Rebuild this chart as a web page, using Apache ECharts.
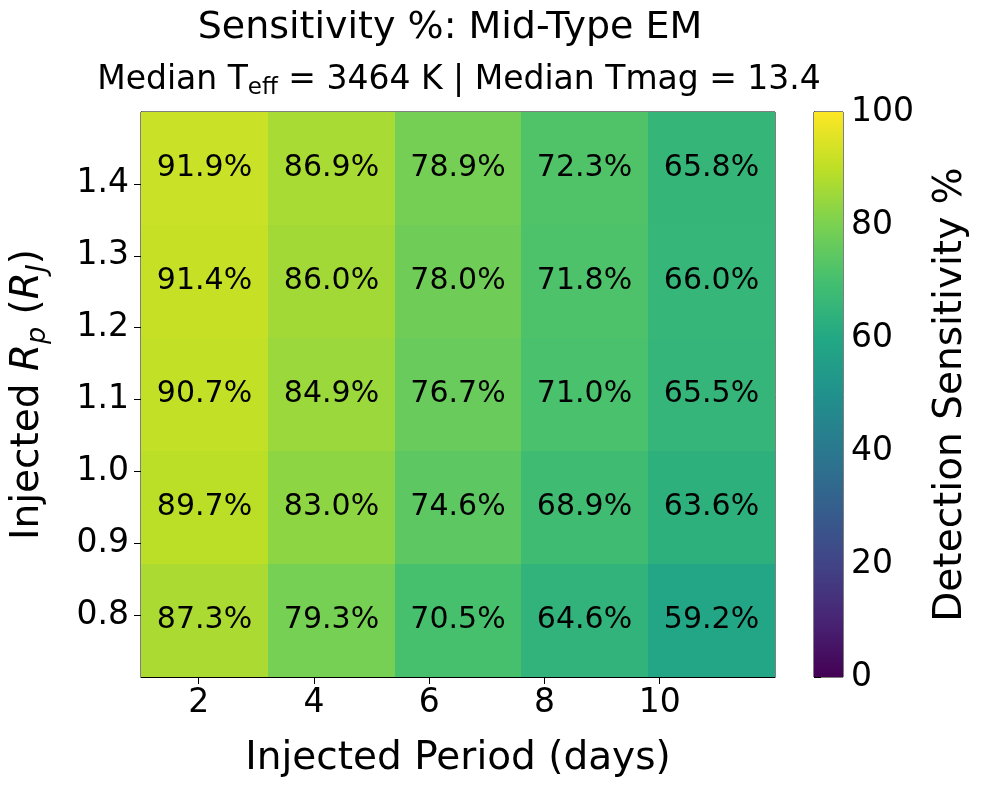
<!DOCTYPE html>
<html>
<head>
<meta charset="utf-8">
<script src="https://cdn.jsdelivr.net/npm/echarts@6/dist/echarts.min.js"></script>
<style>html,body{margin:0;padding:0;background:#fff;}#c{width:984px;height:789px;}</style>
</head>
<body>
<div id="c"></div>
<script>
// Cell edges (period in days, radius in R_J)
const periodEdges = [1.0, 3.2, 5.4, 7.6, 9.8, 12.0];
const radiusEdges = [0.714, 0.871, 1.029, 1.186, 1.343, 1.5];
const periodTicks = [2, 4, 6, 8, 10];
const radiusTicks = [0.8, 0.9, 1.0, 1.1, 1.2, 1.3, 1.4];
const colorbarTicks = [0, 20, 40, 60, 80, 100];
// Sensitivity rows, bottom (smallest radius) to top
const row0 = [87.3, 79.3, 70.5, 64.6, 59.2];
const row1 = [89.7, 83.0, 74.6, 68.9, 63.6];
const row2 = [90.7, 84.9, 76.7, 71.0, 65.5];
const row3 = [91.4, 86.0, 78.0, 71.8, 66.0];
const row4 = [91.9, 86.9, 78.9, 72.3, 65.8];
const rows = [row0, row1, row2, row3, row4];
const viridis = ['#440154','#482475','#414487','#355f8d','#2a788e','#21918c','#22a884','#44bf70','#7ad151','#bddf26','#fde725'];

const FONT = 'DejaVu Sans';
const cells = [];
rows.forEach((r, yi) => r.forEach((v, xi) => cells.push([xi, yi, v])));

const chart = echarts.init(document.getElementById('c'));
chart.setOption({
  backgroundColor: '#fff',
  animation: false,
  textStyle: { fontFamily: FONT },
  graphic: [
    { type: 'text', style: { text: 'Sensitivity %: Mid-Type EM', x: 450, y: 28, align: 'center', verticalAlign: 'middle', font: '38px "DejaVu Sans"', fill: '#000' } },
    { type: 'text', style: {
        text: 'Median T{sub|eff} = 3464 K | Median Tmag = 13.4',
        x: 459, y: 80, align: 'center', verticalAlign: 'middle', fontFamily: FONT, fontSize: 33, fill: '#000',
        rich: { sub: { fontSize: 23, fontFamily: FONT, verticalAlign: 'bottom', lineHeight: 40, padding: [13, 0, 0, 0] } }
      } }
  ],
  visualMap: {
    show: false, type: 'continuous', min: 0, max: 100, dimension: 2, seriesIndex: 0,
    inRange: { color: viridis }
  },
  grid: [
    { left: 141, top: 112, width: 634, height: 565, show: true, borderColor: '#000', borderWidth: 1, backgroundColor: 'transparent' },
    { left: 814, top: 112, width: 29, height: 565, show: true, borderColor: '#000', borderWidth: 1, backgroundColor: 'transparent' }
  ],
  xAxis: [
    { type: 'value', gridIndex: 0, min: periodEdges[0], max: periodEdges[periodEdges.length - 1],
      name: 'Injected Period (days)', nameLocation: 'middle', nameGap: 62,
      nameTextStyle: { fontSize: 39, color: '#000', fontFamily: FONT },
      axisLine: { show: true, lineStyle: { color: '#000', width: 1 } },
      axisTick: { show: true, length: 7, lineStyle: { color: '#000' }, customValues: periodTicks },
      axisLabel: { fontSize: 33, color: '#000', margin: 10, fontFamily: FONT, customValues: periodTicks },
      splitLine: { show: false } },
    { type: 'value', gridIndex: 1, min: 0, max: 1, show: false }
  ],
  yAxis: [
    { type: 'value', gridIndex: 0, min: radiusEdges[0], max: radiusEdges[radiusEdges.length - 1],
      name: 'Injected {it|R}{sub|p} ({it|R}{sub|J})', nameLocation: 'middle', nameGap: 90, nameRotate: 90,
      nameTextStyle: { fontSize: 39, color: '#000', fontFamily: FONT,
        rich: { it: { fontSize: 39, fontStyle: 'italic', fontFamily: FONT },
                sub: { fontSize: 27, fontStyle: 'italic', fontFamily: FONT, verticalAlign: 'bottom', lineHeight: 46, padding: [15, 0, 0, 0] } } },
      axisLine: { show: true, lineStyle: { color: '#000', width: 1 } },
      axisTick: { show: true, length: 7, lineStyle: { color: '#000' }, customValues: radiusTicks },
      axisLabel: { fontSize: 33, color: '#000', margin: 12, fontFamily: FONT, customValues: radiusTicks,
        formatter: v => v.toFixed(1) },
      splitLine: { show: false } },
    { type: 'value', gridIndex: 1, position: 'right', min: 0, max: 100,
      name: 'Detection Sensitivity %', nameLocation: 'middle', nameGap: 88, nameRotate: 90,
      nameTextStyle: { fontSize: 39, color: '#000', fontFamily: FONT },
      axisLine: { show: true, lineStyle: { color: '#000', width: 1 } },
      axisTick: { show: true, length: 7, lineStyle: { color: '#000' }, customValues: colorbarTicks },
      axisLabel: { fontSize: 33, color: '#000', margin: 8, fontFamily: FONT, customValues: colorbarTicks },
      splitLine: { show: false } }
  ],
  series: [
    { type: 'custom', xAxisIndex: 0, yAxisIndex: 0, data: cells, clip: true,
      encode: { x: 0, y: 1 },
      renderItem: function (params, api) {
        const xi = api.value(0), yi = api.value(1), v = api.value(2);
        const p0 = api.coord([periodEdges[xi], radiusEdges[yi + 1]]);
        const p1 = api.coord([periodEdges[xi + 1], radiusEdges[yi]]);
        const x = Math.round(p0[0]), y = Math.round(p0[1]);
        const w = Math.round(p1[0]) - x, h = Math.round(p1[1]) - y;
        return { type: 'group', children: [
          { type: 'rect', shape: { x: x, y: y, width: w, height: h }, style: { fill: api.visual('color'), stroke: null } },
          { type: 'text', z2: 10, style: { text: v.toFixed(1) + '%', x: x + w / 2, y: y + h / 2, align: 'center', verticalAlign: 'middle', font: '30px "DejaVu Sans"', fill: '#000' } }
        ] };
      } },
    { type: 'custom', xAxisIndex: 1, yAxisIndex: 1, data: [[0, 0]],
      renderItem: function (params, api) {
        const a = api.coord([0, 100]);
        const b = api.coord([1, 0]);
        const stops = viridis.map((c, i) => ({ offset: 1 - i / (viridis.length - 1), color: c }));
        stops.reverse();
        return { type: 'rect', shape: { x: a[0], y: a[1], width: b[0] - a[0], height: b[1] - a[1] },
          style: { fill: new echarts.graphic.LinearGradient(0, 0, 0, 1, stops) } };
      } }
  ]
});
</script>
</body>
</html>
